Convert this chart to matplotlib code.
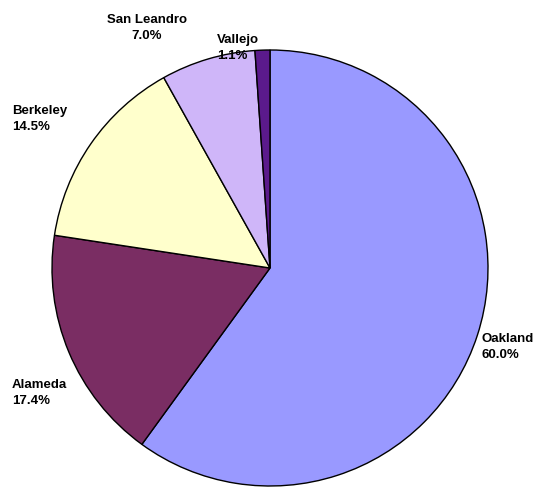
import matplotlib
matplotlib.use("Agg")
import matplotlib.pyplot as plt

# ---------- DATA ----------
cities = ["Oakland", "Alameda", "Berkeley", "San Leandro", "Vallejo"]
shares = [60.0, 17.4, 14.5, 7.0, 1.1]
colors = ["#9999FF", "#7A2D63", "#FFFFCC", "#CFB6F9", "#5B1A8C"]

# label anchors in figure pixels (x, y from top) and alignment
label_pos = [(481, 347), (12, 393), (12, 119), (147, 28), (217, 48)]
label_ha = ["left", "left", "left", "center", "left"]

W, H = 547, 491

# ---------- CHART ----------
fig = plt.figure(figsize=(W / 100, H / 100), dpi=100)
ax = fig.add_axes([52 / W, 5 / H, 436 / W, 436 / H])

ax.pie(
    shares,
    colors=colors,
    startangle=90,
    counterclock=False,
    wedgeprops=dict(edgecolor="black", linewidth=1.0),
)
ax.set_xlim(-1, 1)
ax.set_ylim(-1, 1)
ax.set_aspect("auto")
ax.axis("off")

for city, s, (px, py), ha in zip(cities, shares, label_pos, label_ha):
    fig.text(px / W, 1 - py / H, f"{city}\n{s:.1f}%",
             ha=ha, va="center", multialignment=ha,
             fontsize=9.5, fontweight="bold", family="Liberation Sans",
             linespacing=1.45)

fig.savefig("out.png", dpi=100, facecolor="white")
